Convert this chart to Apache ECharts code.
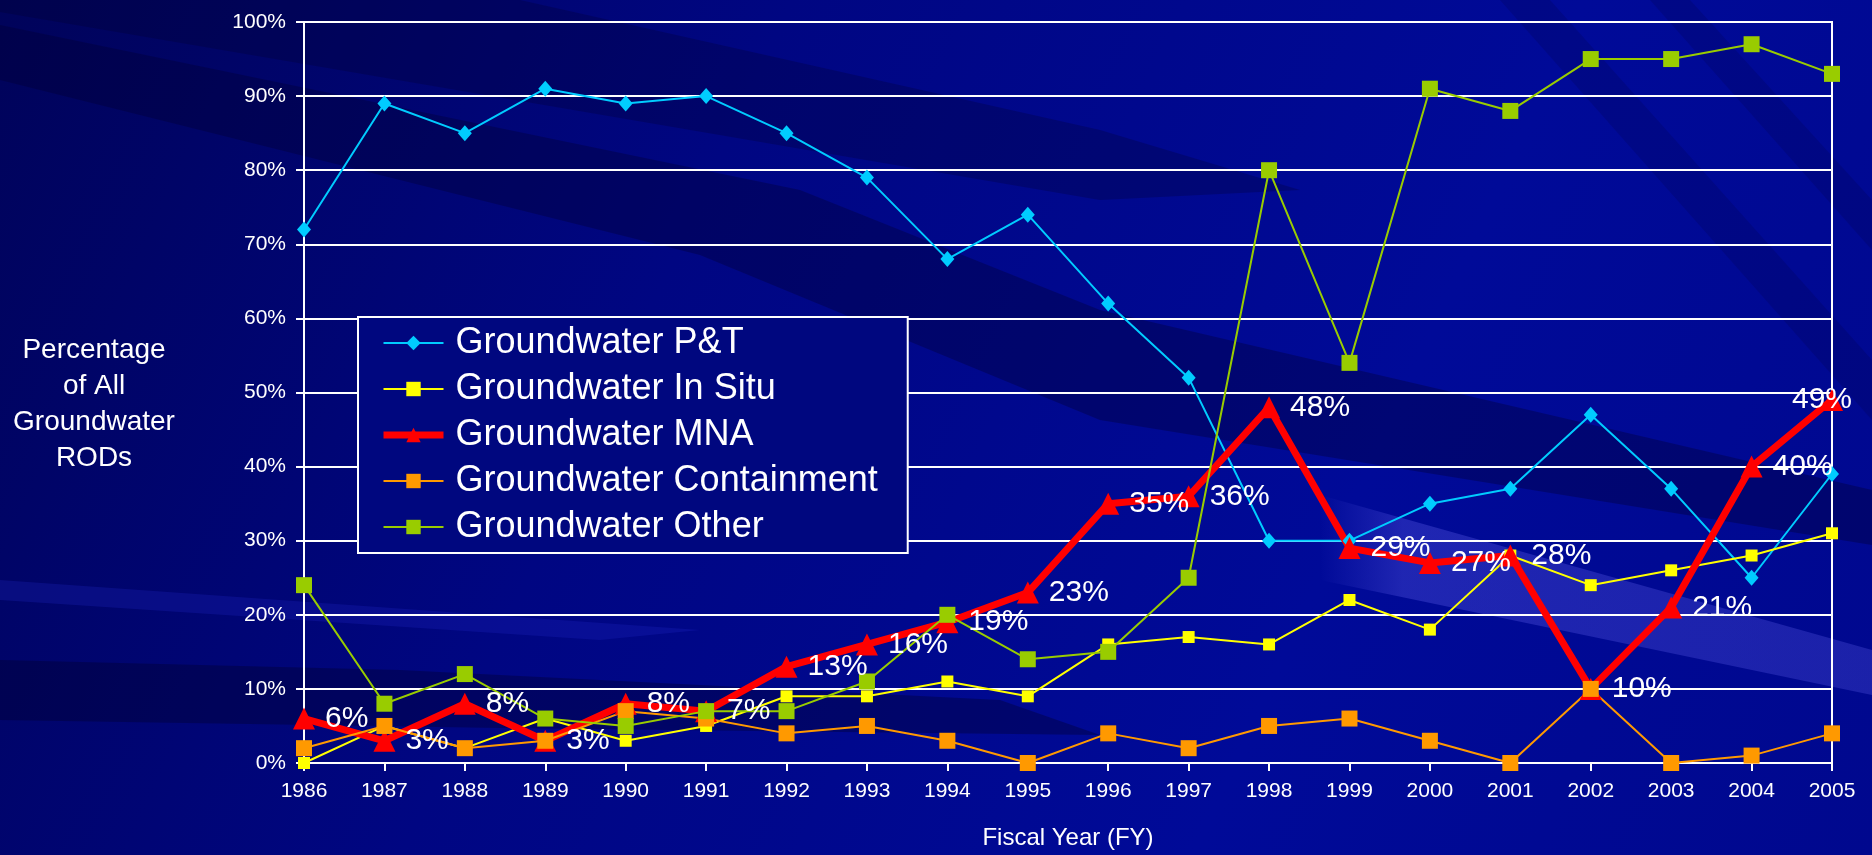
<!DOCTYPE html>
<html>
<head>
    <meta charset="utf-8">
    <title>Groundwater RODs by Fiscal Year</title>
    <script src="https://cdn.jsdelivr.net/npm/echarts@6/dist/echarts.min.js"></script>
    <style>
        html, body { margin: 0; padding: 0; background: #000880; }
        #main { width: 1872px; height: 855px; }
    </style>
</head>
<body>
<div id="main"></div>
<script>
    // data (percent of all groundwater RODs)
    var years = ['1986', '1987', '1988', '1989', '1990', '1991', '1992', '1993', '1994', '1995',
        '1996', '1997', '1998', '1999', '2000', '2001', '2002', '2003', '2004', '2005'];
    var pumpTreat   = [72, 89, 85, 91, 89, 90, 85, 79, 68, 74, 62, 52, 30, 30, 35, 37, 47, 37, 25, 39];
    var inSitu      = [0, 5, 2, 6, 3, 5, 9, 9, 11, 9, 16, 17, 16, 22, 18, 28, 24, 26, 28, 31];
    var mna         = [6, 3, 8, 3, 8, 7, 13, 16, 19, 23, 35, 36, 48, 29, 27, 28, 10, 21, 40, 49];
    var containment = [2, 5, 2, 3, 7, 6, 4, 5, 3, 0, 4, 2, 5, 6, 3, 0, 10, 0, 1, 4];
    var other       = [24, 8, 12, 6, 5, 7, 7, 11, 20, 14, 15, 25, 80, 54, 91, 88, 95, 95, 97, 93];
    var yTicks = [0, 10, 20, 30, 40, 50, 60, 70, 80, 90, 100];

    var font = '"Liberation Sans", Arial, sans-serif';
    var myChart = echarts.init(document.getElementById('main'));

    // last MNA label sits on top of its marker (chart edge)
    var mnaData = mna.map(function (v, i) {
        if (i === mna.length - 1) {
            return {value: v, label: {position: 'inside', offset: [-10, 0]}};
        }
        return v;
    });

    var option = {
        animation: false,
        backgroundColor: {
            type: 'linear', x: 0, y: 0, x2: 1, y2: 1,
            colorStops: [
                {offset: 0, color: '#00035a'},
                {offset: 0.35, color: '#000682'},
                {offset: 0.7, color: '#000a98'},
                {offset: 1, color: '#00088e'}
            ]
        },
        graphic: [
            // background streaks
            {type: 'polygon', z: -10, silent: true,
                shape: {points: [[0, 25], [0, 80], [700, 255], [1100, 420], [1872, 545], [1872, 490], [1100, 310], [800, 190]]},
                style: {fill: 'rgba(0,0,50,0.35)'}},
            {type: 'polygon', z: -10, silent: true,
                shape: {points: [[0, 0], [520, 0], [1100, 130], [1300, 190], [1100, 200], [0, 12]]},
                style: {fill: 'rgba(0,0,40,0.25)'}},
            {type: 'polygon', z: -10, silent: true,
                shape: {points: [[0, 660], [0, 720], [500, 728], [1100, 735], [1000, 700], [400, 670]]},
                style: {fill: 'rgba(0,0,40,0.35)'}},
            {type: 'polygon', z: -10, silent: true,
                shape: {points: [[0, 580], [0, 600], [600, 640], [700, 630]]},
                style: {fill: 'rgba(30,40,200,0.25)'}},
            {type: 'polygon', z: -10, silent: true,
                shape: {points: [[1320, 495], [1872, 650], [1872, 695], [1320, 580]]},
                style: {
                    fill: {
                        type: 'linear', x: 0, y: 0, x2: 1, y2: 0,
                        colorStops: [
                            {offset: 0, color: 'rgba(90,90,230,0)'},
                            {offset: 0.15, color: 'rgba(90,90,230,0.35)'},
                            {offset: 1, color: 'rgba(90,90,230,0.3)'}
                        ]
                    }
                }},
            {type: 'polygon', z: -10, silent: true,
                shape: {points: [[1500, 0], [1550, 0], [1872, 360], [1872, 420]]},
                style: {fill: 'rgba(0,0,60,0.18)'}},
            {type: 'polygon', z: -10, silent: true,
                shape: {points: [[1650, 0], [1690, 0], [1872, 200], [1872, 250]]},
                style: {fill: 'rgba(0,0,60,0.18)'}},
            // y axis title
            {type: 'text', z: 10, silent: true, x: 94, y: 404,
                style: {
                    text: 'Percentage\nof All\nGroundwater\nRODs',
                    fill: '#ffffff', font: '28px ' + font,
                    align: 'center', verticalAlign: 'middle', lineHeight: 36
                }}
        ],
        legend: {
            orient: 'vertical',
            left: 358,
            top: 317,
            padding: [8, 30, 8, 22],
            itemGap: 10,
            itemWidth: 60,
            itemHeight: 18,
            backgroundColor: '#00077f',
            borderColor: '#ffffff',
            borderWidth: 2,
            borderRadius: 0,
            lineStyle: {width: 'inherit'},
            textStyle: {color: '#ffffff', fontSize: 36, fontFamily: font, padding: [0, 0, 0, 7]}
        },
        grid: {
            left: 304,
            right: 40,
            top: 22,
            bottom: 91,
            show: true,
            borderColor: '#ffffff',
            borderWidth: 2,
            backgroundColor: 'transparent'
        },
        xAxis: {
            type: 'category',
            boundaryGap: false,
            data: years,
            name: 'Fiscal Year (FY)',
            nameLocation: 'middle',
            nameGap: 63,
            nameTextStyle: {color: '#ffffff', fontSize: 24, fontFamily: font},
            axisLine: {lineStyle: {color: '#ffffff', width: 2}},
            axisTick: {show: true, length: 8, alignWithLabel: true, lineStyle: {color: '#ffffff', width: 2}},
            axisLabel: {color: '#ffffff', fontSize: 21, fontFamily: font, margin: 18, interval: 0},
            splitLine: {show: false}
        },
        yAxis: {
            type: 'value',
            min: yTicks[0],
            max: yTicks[yTicks.length - 1],
            interval: 10,
            axisLine: {show: true, lineStyle: {color: '#ffffff', width: 2}},
            axisTick: {show: true, length: 8, lineStyle: {color: '#ffffff', width: 2}},
            axisLabel: {color: '#ffffff', fontSize: 21, fontFamily: font, margin: 18, formatter: '{value}%'},
            splitLine: {show: true, lineStyle: {color: '#ffffff', width: 2}}
        },
        series: [
            {
                name: 'Groundwater P&T',
                type: 'line',
                data: pumpTreat,
                symbol: 'diamond',
                symbolSize: [14, 16],
                showAllSymbol: true,
                color: '#00ccff',
                lineStyle: {color: '#00ccff', width: 2}
            },
            {
                name: 'Groundwater In Situ',
                type: 'line',
                data: inSitu,
                symbol: 'rect',
                symbolSize: 12,
                showAllSymbol: true,
                color: '#ffff00',
                lineStyle: {color: '#ffff00', width: 2}
            },
            {
                name: 'Groundwater MNA',
                type: 'line',
                data: mnaData,
                symbol: 'triangle',
                symbolSize: 22,
                showAllSymbol: true,
                color: '#ff0000',
                lineStyle: {color: '#ff0000', width: 7},
                label: {
                    show: true,
                    position: 'right',
                    distance: 10,
                    formatter: '{c}%',
                    color: '#ffffff',
                    fontSize: 30,
                    fontFamily: font,
                    textBorderWidth: 0
                }
            },
            {
                name: 'Groundwater Containment',
                type: 'line',
                data: containment,
                symbol: 'rect',
                symbolSize: 16,
                showAllSymbol: true,
                color: '#ff9900',
                lineStyle: {color: '#ff9900', width: 2}
            },
            {
                name: 'Groundwater Other',
                type: 'line',
                data: other,
                symbol: 'rect',
                symbolSize: 16,
                showAllSymbol: true,
                color: '#99cc00',
                lineStyle: {color: '#99cc00', width: 2}
            }
        ]
    };

    myChart.setOption(option);
</script>
</body>
</html>
